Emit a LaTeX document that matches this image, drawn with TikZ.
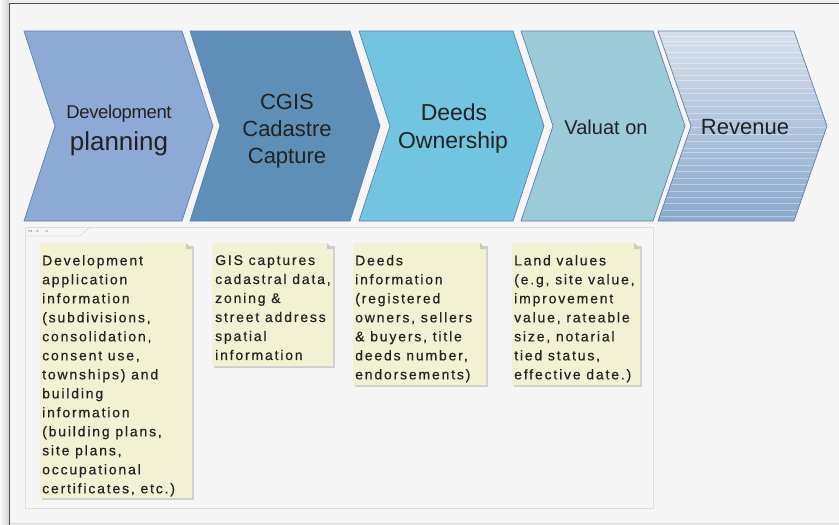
\documentclass[tikz,border=0pt]{standalone}
\usepackage{fontspec}
\setmainfont{Liberation Sans}
\newfontfamily\notefont{Liberation Sans}[LetterSpace=13,FakeBold=0.4]
\newfontfamily\tightfont{Liberation Sans}[LetterSpace=-2]
\definecolor{canvas}{HTML}{EEEEEE}
\definecolor{panelbg}{HTML}{F5F5F5}
\definecolor{framecol}{HTML}{505050}
\definecolor{panelline}{HTML}{DDDDDD}
\definecolor{chevline}{HTML}{5F7FAA}
\definecolor{chA}{HTML}{8DA9D5}
\definecolor{chB}{HTML}{5D8FB8}
\definecolor{chC}{HTML}{72C5E0}
\definecolor{chD}{HTML}{9BCBD8}
\definecolor{chEtop}{HTML}{D6DFEA}
\definecolor{chEbot}{HTML}{89A9CD}
\definecolor{notecol}{HTML}{F2F1D4}
\definecolor{foldcol}{HTML}{C9CCC0}
\definecolor{shadowcol}{HTML}{CFCFCF}
\definecolor{txt}{HTML}{222222}
\tikzset{
  chev/.style={draw=chevline, line width=0.7pt},
  ctext/.style={text=txt, inner sep=0pt},
  notetext/.style={font=\notefont\fontsize{14}{19}\selectfont, align=left, inner sep=0pt, text=txt},
}
\newcommand\chevpath[3]{(#1,31) -- (#2,31) -- ({#2+#3},126) -- (#2,221) -- (#1,221) -- ({#1+#3},126) -- cycle}
\newcommand\mynote[4]{%
  \fill[shadowcol] ({#1+2},{#2+3}) rectangle ({#3+2},{#4+2});
  \fill[notecol] (#1,#2) -- ({#3-6},#2) -- (#3,{#2+6}) -- (#3,#4) -- (#1,#4) -- cycle;
  \fill[foldcol] ({#3-6},#2) -- ({#3-6},{#2+6}) -- (#3,{#2+6}) -- cycle;
}
\begin{document}
\begin{tikzpicture}[x=1pt,y=-1pt]
\useasboundingbox (0,0) rectangle (839,525);
\fill[canvas] (0,0) rectangle (839,525);
\shade[left color=white!95!gray, right color=gray!35] (0,0) rectangle (9,525);
\fill[panelbg] (9.5,3.5) rectangle (839,523);
\draw[framecol, line width=1.3pt] (9.5,525) -- (9.5,3.5) -- (839,3.5);
\draw[panelline] (9.5,523) -- (839,523);
% lower panel
\draw[panelline, line width=0.8pt] (25,227) rectangle (653,508);
\draw[panelline, line width=0.8pt] (25,236) -- (80,236) -- (90,227);
\node[font=\fontsize{4}{4}\selectfont, text=gray, inner sep=0pt, anchor=west] (tab) at (28,231.5) {va\hspace{4pt}a\hspace{7pt}a};
% chevrons
\path[chev, fill=chA] \chevpath{24}{182}{31};
\path[chev, fill=chB] \chevpath{190}{350}{30};
\path[chev, fill=chC] \chevpath{359}{513}{31};
\path[chev, fill=chD] \chevpath{521}{653}{32};
\shade[top color=chEtop, bottom color=chEbot] \chevpath{658}{794}{33};
\begin{scope}
  \clip \chevpath{658}{794}{33};
  \foreach \yy in {36,41,45,52,57,63,68,75,80,88,93,100,106,113,119,127,134,141,148,152,158,165,171,178,184,191,197,203,210,216}
    \draw[white, opacity=0.35, line width=0.6pt] (650,\yy) -- (830,\yy);
\end{scope}
\path[chev] \chevpath{658}{794}{33};
% chevron texts
\node[ctext, font=\tightfont\fontsize{18.5}{18}\selectfont, anchor=base] (t1a) at (119,118) {Development};
\node[ctext, font=\fontsize{26}{26}\selectfont, anchor=base] (t1b) at (119,150) {planning};
\node[ctext, font=\fontsize{22}{22}\selectfont, anchor=base] (t2a) at (287,109) {CGIS};
\node[ctext, font=\fontsize{22}{22}\selectfont, anchor=base] (t2b) at (287,136) {Cadastre};
\node[ctext, font=\fontsize{22}{22}\selectfont, anchor=base] (t2c) at (287,163) {Capture};
\node[ctext, font=\fontsize{23}{23}\selectfont, anchor=base] (t3a) at (454,120) {Deeds};
\node[ctext, font=\fontsize{23}{23}\selectfont, anchor=base] (t3b) at (453,148) {Ownership};
\node[ctext, font=\fontsize{20}{20}\selectfont, anchor=base] (t4) at (606,134) {Valuat on};
\node[ctext, font=\fontsize{22}{22}\selectfont, anchor=base] (t5) at (745,134) {Revenue};
% notes
\mynote{40}{243}{192}{498}
\mynote{212}{243}{333}{366}
\mynote{353}{243}{486}{385}
\mynote{512}{243}{640}{385}
\node[notetext, anchor=north west] (n1) at (42,255) {Development\\application\\information\\(subdivisions,\\consolidation,\\consent use,\\townships) and\\building\\information\\(building plans,\\site plans,\\occupational\\certificates, etc.)};
\node[notetext, anchor=north west] (n2) at (215,255) {GIS captures\\cadastral data,\\zoning \&\\street address\\spatial\\information};
\node[notetext, anchor=north west] (n3) at (355,255) {Deeds\\information\\(registered\\owners, sellers\\\& buyers, title\\deeds number,\\endorsements)};
\node[notetext, anchor=north west] (n4) at (514,255) {Land values\\(e.g, site value,\\improvement\\value, rateable\\size, notarial\\tied status,\\effective date.)};
\end{tikzpicture}
\end{document}
